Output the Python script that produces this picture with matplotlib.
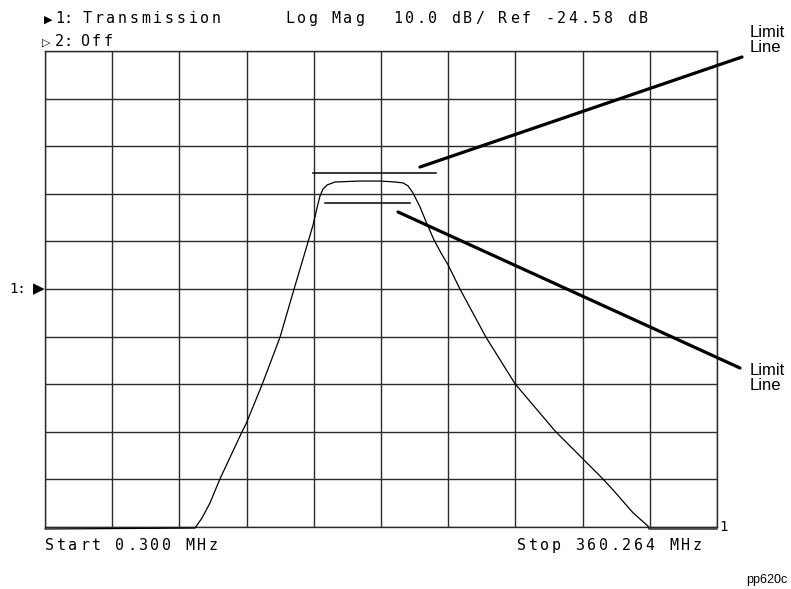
import numpy as np
import matplotlib
matplotlib.use('Agg')
import matplotlib.pyplot as plt
import matplotlib.transforms as mtransforms

freq_mhz = [0.3, 80.6, 84.4, 88.7, 94.0, 105.8, 108.0, 116.5, 126.2, 133.7,
            141.2, 143.9, 146.0, 147.6, 149.2, 151.4, 155.6, 169.0, 179.7,
            187.8, 192.1, 194.7, 197.4, 201.2, 204.9, 208.7, 212.4, 216.2,
            222.6, 236.5, 252.1, 273.5, 288.0, 298.7, 304.6, 315.3, 323.3,
            323.9, 360.264]
trace_db = [-75.0, -74.8, -72.7, -69.5, -64.5, -54.6, -52.9, -44.75, -34.7,
            -24.6, -14.7, -11.1, -7.56, -5.04, -3.57, -2.73, -2.1, -1.9, -1.9,
            -2.1, -2.3, -2.9, -4.4, -7.35, -10.9, -14.3, -17.0, -19.5, -24.6,
            -34.7, -44.5, -54.4, -60.1, -64.3, -66.8, -71.6, -74.4, -75.0,
            -75.0]

# limit lines: (start MHz, stop MHz, level dB)
upper_limit = [143.9, 209.7, -0.2]
lower_limit = [150.3, 195.8, -6.5]

start_mhz = 0.3
stop_mhz = 360.264
ref_db = -24.58
scale_db = 10.0
ref_div = 5
n_div = 10

W, H = 791, 589
fig = plt.figure(figsize=(W / 100, H / 100), dpi=100)
ax = fig.add_axes([45 / W, 1 - 527 / H, 672 / W, 476 / H])

top_db = ref_db + scale_db * (n_div - ref_div)
bottom_db = ref_db - scale_db * ref_div
ax.set_xlim(start_mhz, stop_mhz)
ax.set_ylim(bottom_db, top_db)
ax.set_xticks(np.linspace(start_mhz, stop_mhz, n_div + 1))
ax.set_yticks(np.linspace(bottom_db, top_db, n_div + 1))
ax.tick_params(length=0, labelbottom=False, labelleft=False)
ax.grid(True, color='#2a2a2a', lw=1.0)
for sp in ax.spines.values():
    sp.set_color('#2a2a2a')
    sp.set_linewidth(1.0)

ax.plot(freq_mhz, trace_db, color='black', lw=0.9, clip_on=False, zorder=3)
for lo, hi, lvl in (upper_limit, lower_limit):
    ax.plot([lo, hi], [lvl, lvl], color='black', lw=1.1, zorder=3)

# pointers to the limit lines
ax.annotate('', xy=(201.2, 1.05), xycoords='data',
            xytext=(742, H - 57), textcoords='figure pixels',
            arrowprops=dict(arrowstyle='-', lw=2.3, color='black',
                            shrinkA=0, shrinkB=0))
ax.annotate('', xy=(189.4, -8.4), xycoords='data',
            xytext=(740, H - 368), textcoords='figure pixels',
            arrowprops=dict(arrowstyle='-', lw=2.3, color='black',
                            shrinkA=0, shrinkB=0))
fig.text(750 / W, 1 - 25 / H, 'Limit\nLine', ha='left', va='top',
         fontsize=12, family='Liberation Sans', linespacing=1.0)
fig.text(750 / W, 1 - 363 / H, 'Limit\nLine', ha='left', va='top',
         fontsize=12, family='Liberation Sans', linespacing=1.0)


def hp_text(x_px, y_px, s, pitch=11.7, size=10.8):
    # instrument font: fixed pitch, wide spacing
    for i, ch in enumerate(s):
        if ch != ' ':
            fig.text((x_px + i * pitch) / W, 1 - y_px / H, ch, ha='left',
                     va='baseline', fontsize=size, family='DejaVu Sans Mono')


fig.text(44 / W, 1 - 23 / H, '\u25B6', ha='left', va='baseline',
         fontsize=8, family='DejaVu Sans')
hp_text(55, 23, '1:', pitch=8.5)
hp_text(83, 23, 'Transmission')
hp_text(285, 23, 'Log Mag')
hp_text(393, 23, '10.0 dB/ Ref -24.58 dB')
fig.text(42 / W, 1 - 46 / H, '\u25B7', ha='left', va='baseline',
         fontsize=8, family='DejaVu Sans')
hp_text(55, 46, '2:', pitch=8.5)
hp_text(80, 46, 'Off')
hp_text(45, 550, 'Start 0.300 MHz')
hp_text(517, 550, 'Stop 360.264 MHz')

# reference level marker on the left edge
blend = mtransforms.blended_transform_factory(ax.transAxes, ax.transData)
ax.text(0.0, ref_db, '\u25B6', transform=blend, ha='right', va='center',
        fontsize=11, family='DejaVu Sans', clip_on=False)
ax.text(-0.028, ref_db, '1:', transform=blend, ha='right', va='center',
        fontsize=10, family='DejaVu Sans Mono', clip_on=False)
ax.text(1.003, bottom_db, '1', transform=blend, ha='left', va='center',
        fontsize=10, family='DejaVu Sans Mono', clip_on=False)

fig.text(787 / W, 1 - 583 / H, 'pp620c', ha='right', va='baseline',
         fontsize=9, family='Liberation Sans')

fig.savefig('out.png', dpi=100)
